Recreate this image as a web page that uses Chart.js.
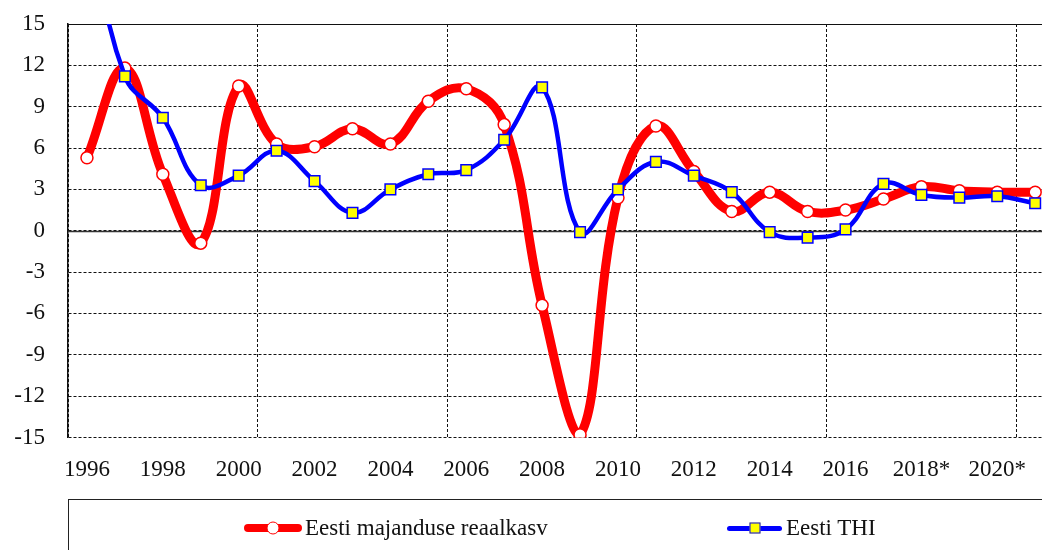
<!DOCTYPE html>
<html>
<head>
<meta charset="utf-8">
<script src="https://cdn.jsdelivr.net/npm/chart.js@4"></script>
<style>
  body { margin: 0; width: 1042px; height: 550px; overflow: hidden; background: #fff; position: relative; font-family: 'Liberation Serif', serif; }
  #wrap { position: absolute; left: 0; top: 0; width: 1051px; height: 550px; }
  #legend { position: absolute; left: 68px; top: 499px; width: 1000px; height: 80px; border: 1px solid #222; }
  .item { position: absolute; top: 13px; height: 30px; display: flex; align-items: center; font-size: 23px; color: #111; white-space: nowrap; }
  .sym { position: relative; height: 30px; }
  .sym .ln { position: absolute; left: 0; right: 0; border-radius: 4px; }
  .sym .mk { position: absolute; left: 50%; top: 50%; transform: translate(-50%, -50%); box-sizing: border-box; }
</style>
</head>
<body>
<div id="wrap"><canvas id="myChart" width="1051" height="550"></canvas></div>
<div id="legend"></div>
<script>
// years on the x axis
const years = [1996, 1997, 1998, 1999, 2000, 2001, 2002, 2003, 2004, 2005, 2006, 2007, 2008,
               2009, 2010, 2011, 2012, 2013, 2014, 2015, 2016, 2017, 2018, 2019, 2020, 2021];

// Eesti majanduse reaalkasv (red)
const kasv = [5.3, 11.8, 4.1, -0.9, 10.5, 6.3, 6.1, 7.4, 6.3, 9.4, 10.3, 7.7, -5.4,
              -14.8, 2.4, 7.6, 4.3, 1.4, 2.8, 1.4, 1.5, 2.3, 3.2, 2.9, 2.8, 2.8];

// Eesti THI (blue)
const thi = [23.1, 11.2, 8.2, 3.3, 4.0, 5.8, 3.6, 1.3, 3.0, 4.1, 4.4, 6.6, 10.4,
             -0.1, 3.0, 5.0, 4.0, 2.8, -0.1, -0.5, 0.1, 3.4, 2.6, 2.4, 2.5, 2.0];

const seriesNames = ['Eesti majanduse reaalkasv', 'Eesti THI'];

const xTickYears = [1996, 1998, 2000, 2002, 2004, 2006, 2008, 2010, 2012, 2014, 2016, 2018, 2020];
const xTickLabels = ['1996', '1998', '2000', '2002', '2004', '2006', '2008', '2010', '2012', '2014', '2016', '2018*', '2020*'];

const yMin = -15, yMax = 15, yStep = 3;

const fontFam = "'Liberation Serif', 'Times New Roman', serif";

// solid zero line and top frame line
const frameLines = {
  id: 'frameLines',
  beforeDatasetsDraw(chart) {
    const {ctx, chartArea: a, scales: {y}} = chart;
    ctx.save();
    ctx.setLineDash([]);
    ctx.strokeStyle = '#333';
    ctx.lineWidth = 1.5;
    const y0 = Math.round(y.getPixelForValue(0)) + 0.5;
    ctx.beginPath(); ctx.moveTo(a.left, y0); ctx.lineTo(a.right, y0); ctx.stroke();
    ctx.strokeStyle = '#111';
    ctx.lineWidth = 1;
    const yt = Math.round(a.top) + 0.5;
    ctx.beginPath(); ctx.moveTo(a.left, yt); ctx.lineTo(a.right, yt); ctx.stroke();
    ctx.restore();
  }
};

const ctx = document.getElementById('myChart');

new Chart(ctx, {
  type: 'line',
  data: {
    datasets: [
      {
        label: seriesNames[0],
        data: years.map((yr, i) => ({x: yr, y: kasv[i]})),
        borderColor: '#ff0000',
        borderWidth: 9,
        pointRadius: 6,
        pointBackgroundColor: '#ffffff',
        pointBorderColor: '#ff0000',
        pointBorderWidth: 1.5,
        tension: 0.4,
        order: 1,
        clip: 0
      },
      {
        label: seriesNames[1],
        data: years.map((yr, i) => ({x: yr, y: thi[i]})),
        borderColor: '#0000ff',
        borderWidth: 4.5,
        pointStyle: 'rect',
        pointRadius: 7.5,
        pointBackgroundColor: '#ffff00',
        pointBorderColor: '#0000ff',
        pointBorderWidth: 1.5,
        tension: 0.4,
        order: 0,
        clip: 0
      }
    ]
  },
  options: {
    responsive: false,
    animation: false,
    layout: { padding: { top: 24, left: 0, right: 0, bottom: 0 } },
    plugins: { legend: { display: false }, tooltip: { enabled: false } },
    scales: {
      x: {
        type: 'linear',
        min: 1995.5,
        max: 2021.18,
        afterFit: (s) => { s.height = 112.5; s.paddingLeft = 0; s.paddingRight = 0; },
        border: { display: false, dash: [3, 2] },
        grid: {
          drawTicks: false,
          lineWidth: 1,
          color: (c) => {
            const v = c.tick ? c.tick.value : null;
            if (v === null) return 'transparent';
            const d = v - 2000.5;
            return Math.abs(d / 5 - Math.round(d / 5)) < 1e-6 ? '#111' : 'transparent';
          }
        },
        ticks: {
          stepSize: 0.5,
          autoSkip: false,
          maxRotation: 0,
          padding: 19,
          color: '#111',
          font: { family: fontFam, size: 23 },
          callback: (v) => {
            const i = xTickYears.indexOf(v);
            return i >= 0 ? xTickLabels[i] : '';
          }
        }
      },
      y: {
        min: yMin,
        max: yMax,
        afterFit: (s) => { s.width = 68; s.paddingTop = 0; s.paddingBottom = 0; },
        border: { display: true, color: '#111', width: 1.5, dash: [3, 2] },
        grid: { drawTicks: false, color: '#111', lineWidth: 1 },
        ticks: {
          stepSize: yStep,
          padding: 23,
          color: '#111',
          font: { family: fontFam, size: 23 },
          callback: (v) => String(v)
        }
      }
    }
  },
  plugins: [frameLines]
});

// legend under the chart
const legend = document.getElementById('legend');
const legendItems = [
  { name: seriesNames[0], left: 175, w: 58, line: '#ff0000', lh: 8, mk: 'width:13px;height:13px;border-radius:50%;background:#fff;border:1.5px solid #ff0000;', gap: 3 },
  { name: seriesNames[1], left: 658, w: 55, line: '#0000ff', lh: 5, mk: 'width:11px;height:11px;background:#ffff00;border:1.5px solid #0000ff;', gap: 4 }
];
legendItems.forEach((it) => {
  const d = document.createElement('div');
  d.className = 'item';
  d.style.left = it.left + 'px';
  d.innerHTML = `<span class="sym" style="width:${it.w}px;margin-right:${it.gap}px">` +
    `<span class="ln" style="height:${it.lh}px;top:${15 - it.lh / 2}px;background:${it.line}"></span>` +
    `<span class="mk" style="${it.mk}"></span></span><span>${it.name}</span>`;
  legend.appendChild(d);
});
</script>
</body>
</html>
